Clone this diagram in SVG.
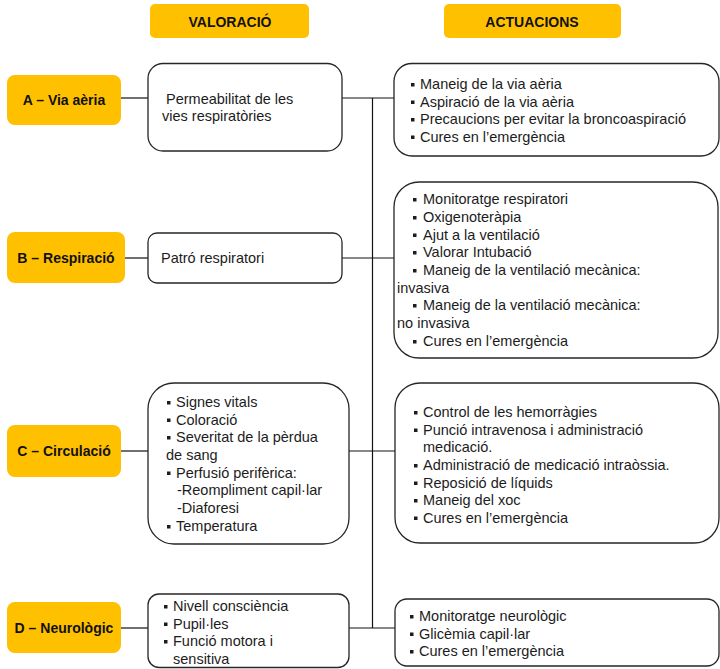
<svg xmlns="http://www.w3.org/2000/svg" width="720" height="669" viewBox="0 0 720 669">
<style>
.hdr{fill:#FFC000}
.lbl{fill:#FFC000}
.box{fill:#fff;stroke:#262626;stroke-width:1.3}
.ht{font-family:"Liberation Sans",Arial,sans-serif;font-size:14px;font-weight:bold;fill:#111;text-anchor:middle}
.t{font-family:"Liberation Sans",Arial,sans-serif;font-size:14.5px;fill:#1c1c1c}
.con line{stroke:#111;stroke-width:1.2}
</style>
<defs>
<rect id="b" x="0" y="-6" width="3.5" height="3.5" fill="#1c1c1c"/>
</defs>
<rect width="720" height="669" fill="#fff"/>

<g id="hdr-valoracio">
<rect class="hdr" x="150" y="4" width="159" height="34" rx="5"/>
<text class="ht" x="230" y="27">VALORACIÓ</text>
</g>
<g id="hdr-actuacions">
<rect class="hdr" x="444" y="4" width="177" height="34" rx="5"/>
<text class="ht" x="532" y="27">ACTUACIONS</text>
</g>

<g class="con" id="connectors">
<line x1="121" y1="98" x2="148" y2="98"/>
<line x1="342" y1="98" x2="394" y2="98"/>
<line x1="372.5" y1="98" x2="372.5" y2="628"/>
<line x1="125" y1="258" x2="148" y2="258"/>
<line x1="342" y1="258" x2="394" y2="258"/>
<line x1="121" y1="451" x2="148" y2="451"/>
<line x1="349" y1="451" x2="395" y2="451"/>
<line x1="121" y1="628" x2="148" y2="628"/>
<line x1="349" y1="628" x2="395" y2="628"/>
</g>

<g id="lbl-a">
<rect class="lbl" x="7" y="75" width="114" height="50" rx="8"/>
<text class="ht" x="64" y="105">A – Via aèria</text>
</g>
<g id="lbl-b">
<rect class="lbl" x="7" y="232" width="118" height="51" rx="8"/>
<text class="ht" x="66" y="263">B – Respiració</text>
</g>
<g id="lbl-c">
<rect class="lbl" x="7" y="425" width="114" height="52" rx="8"/>
<text class="ht" x="64" y="456">C – Circulació</text>
</g>
<g id="lbl-d">
<rect class="lbl" x="7" y="602" width="114" height="51" rx="8"/>
<text class="ht" x="64" y="633">D – Neurològic</text>
</g>

<g id="val-a">
<rect class="box" x="148" y="63.5" width="194" height="87.5" rx="15"/>
<text class="t" x="166" y="104">Permeabilitat de les</text>
<text class="t" x="162" y="121">vies respiratòries</text>
</g>
<g id="val-b">
<rect class="box" x="148" y="233" width="194" height="50" rx="9"/>
<text class="t" x="161" y="263">Patró respiratori</text>
</g>
<g id="val-c">
<rect class="box" x="148" y="383" width="201" height="161" rx="26"/>
<use href="#b" x="167" y="407"/><text class="t" x="176" y="407">Signes vitals</text>
<use href="#b" x="167" y="424.5"/><text class="t" x="176" y="424.5">Coloració</text>
<use href="#b" x="167" y="442"/><text class="t" x="176" y="442">Severitat de la pèrdua</text>
<text class="t" x="166" y="460">de sang</text>
<use href="#b" x="167" y="477.5"/><text class="t" x="176" y="477.5">Perfusió perifèrica:</text>
<text class="t" x="177" y="495">-Reompliment  capil·lar</text>
<text class="t" x="177" y="513">-Diaforesi</text>
<use href="#b" x="167" y="531"/><text class="t" x="176" y="531">Temperatura</text>
</g>
<g id="val-d">
<rect class="box" x="148" y="594" width="201" height="73.5" rx="11"/>
<use href="#b" x="164" y="611"/><text class="t" x="173" y="611">Nivell consciència</text>
<use href="#b" x="164" y="628.5"/><text class="t" x="173" y="628.5">Pupil·les</text>
<use href="#b" x="164" y="646"/><text class="t" x="173" y="646">Funció motora i</text>
<text class="t" x="173" y="663.5">sensitiva</text>
</g>

<g id="act-a">
<rect class="box" x="394" y="63.5" width="325" height="92.5" rx="18"/>
<use href="#b" x="411" y="89"/><text class="t" x="420" y="89">Maneig de la via aèria</text>
<use href="#b" x="411" y="106.5"/><text class="t" x="420" y="106.5">Aspiració de la via aèria</text>
<use href="#b" x="411" y="124"/><text class="t" x="420" y="124">Precaucions per evitar la broncoaspiració</text>
<use href="#b" x="411" y="141.5"/><text class="t" x="420" y="141.5">Cures en l’emergència</text>
</g>
<g id="act-b">
<rect class="box" x="394" y="182" width="324" height="176" rx="25"/>
<use href="#b" x="413" y="204"/><text class="t" x="423" y="204">Monitoratge respiratori</text>
<use href="#b" x="413" y="222"/><text class="t" x="423" y="222">Oxigenoteràpia</text>
<use href="#b" x="413" y="239.5"/><text class="t" x="423" y="239.5">Ajut a la ventilació</text>
<use href="#b" x="413" y="257"/><text class="t" x="423" y="257">Valorar Intubació</text>
<use href="#b" x="413" y="275"/><text class="t" x="423" y="275">Maneig de la ventilació mecànica:</text>
<text class="t" x="397" y="292.5">invasiva</text>
<use href="#b" x="413" y="310"/><text class="t" x="423" y="310">Maneig de la ventilació mecànica:</text>
<text class="t" x="397" y="328">no invasiva</text>
<use href="#b" x="413" y="346"/><text class="t" x="423" y="346">Cures en l’emergència</text>
</g>
<g id="act-c">
<rect class="box" x="395" y="383" width="324" height="160" rx="25"/>
<use href="#b" x="414" y="417"/><text class="t" x="423" y="417">Control de les hemorràgies</text>
<use href="#b" x="414" y="434.5"/><text class="t" x="423" y="434.5">Punció intravenosa i administració</text>
<text class="t" x="423" y="452">medicació.</text>
<use href="#b" x="414" y="470"/><text class="t" x="423" y="470">Administració de medicació intraòssia.</text>
<use href="#b" x="414" y="487.5"/><text class="t" x="423" y="487.5">Reposició de líquids</text>
<use href="#b" x="414" y="505"/><text class="t" x="423" y="505">Maneig del xoc</text>
<use href="#b" x="414" y="522.5"/><text class="t" x="423" y="522.5">Cures en l’emergència</text>
</g>
<g id="act-d">
<rect class="box" x="395" y="599" width="324" height="67" rx="12"/>
<use href="#b" x="410" y="621"/><text class="t" x="419" y="621">Monitoratge neurològic</text>
<use href="#b" x="410" y="638.5"/><text class="t" x="419" y="638.5">Glicèmia capil·lar</text>
<use href="#b" x="410" y="656"/><text class="t" x="419" y="656">Cures en l’emergència</text>
</g>
</svg>
